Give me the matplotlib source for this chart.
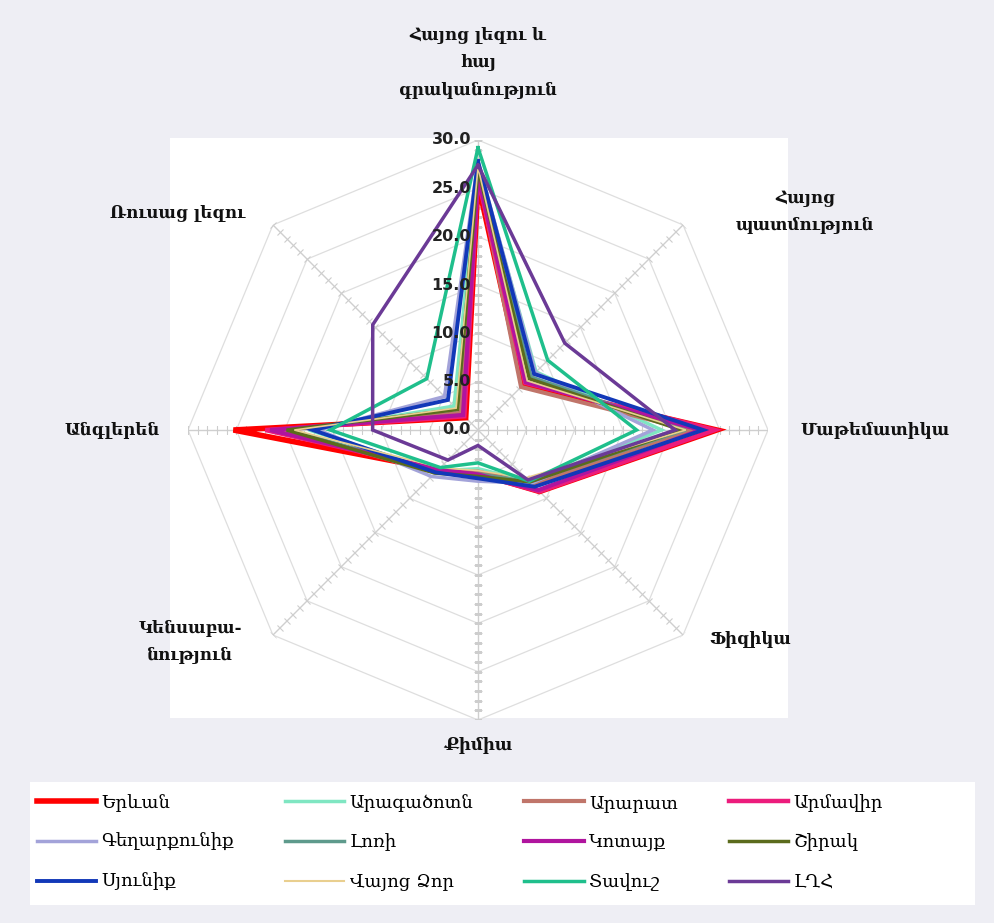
import numpy as np
import matplotlib
matplotlib.use("Agg")
import matplotlib.pyplot as plt
from matplotlib.patches import Rectangle
from matplotlib.lines import Line2D
from matplotlib.markers import MarkerStyle
from matplotlib.transforms import Affine2D

# subjects, clockwise from the top
subjects = ["Հայոց լեզու և\nհայ\nգրականություն", "Հայոց\nպատմություն", "Մաթեմատիկա",
            "Ֆիզիկա", "Քիմիա", "Կենսաբա-\nնություն", "Անգլերեն", "Ռուսաց լեզու"]

regions = ["Երևան", "Արագածոտն", "Արարատ", "Արմավիր", "Գեղարքունիք", "Լոռի",
           "Կոտայք", "Շիրակ", "Սյունիք", "Վայոց Ձոր", "Տավուշ", "ԼՂՀ"]

colors = ["#ff0000", "#7fe6c2", "#c0756a", "#ec1c7c", "#a3a3d9", "#5e9a8c",
          "#b0149e", "#5b6b1c", "#1238b8", "#e9cf8f", "#1fbf8c", "#6b3a96"]
widths = [4.0, 2.5, 3.0, 3.2, 2.5, 2.0, 3.0, 2.5, 2.8, 1.2, 2.5, 2.5]

# values per subject, in the order of regions
lang    = [25.5, 27.5, 26.5, 26.0, 27.8, 27.5, 26.3, 27.0, 27.8, 27.2, 29.2, 27.4]
history = [6.6, 8.5, 6.3, 6.9, 8.4, 7.8, 7.0, 7.5, 8.2, 7.2, 10.2, 12.7]
math_   = [24.7, 19.0, 22.0, 24.5, 18.1, 21.5, 23.0, 21.0, 23.3, 21.5, 16.4, 20.4]
physics = [9.0, 7.5, 8.0, 9.0, 7.8, 7.6, 8.8, 7.6, 8.3, 7.0, 7.5, 7.3]
chem    = [4.5, 4.0, 4.3, 4.6, 5.3, 4.5, 4.6, 4.8, 5.0, 4.2, 3.4, 1.6]
bio     = [5.8, 6.0, 6.2, 5.8, 6.8, 6.0, 5.8, 6.3, 6.2, 5.5, 5.5, 4.4]
english = [25.3, 17.5, 20.2, 22.0, 16.5, 19.5, 21.5, 19.8, 17.1, 19.0, 15.3, 10.9]
russian = [1.8, 3.5, 2.5, 2.0, 4.9, 3.0, 2.2, 3.0, 4.4, 3.2, 7.5, 15.4]

r_ticks = [0, 5, 10, 15, 20, 25, 30]

data = np.array([lang, history, math_, physics, chem, bio, english, russian]).T

W, H = 994, 923
fig = plt.figure(figsize=(W / 100, H / 100), dpi=100)
fig.patch.set_facecolor("#eeeef4")

def fx(px):
    return px / W

def fy(py):
    return 1 - py / H

# white plot area
fig.add_artist(Rectangle((fx(170), fy(718)), fx(788) - fx(170), fy(138) - fy(718),
                         transform=fig.transFigure, facecolor="white", edgecolor="none", zorder=-1))

cx, cy, rad = 478, 430, 290
ax = fig.add_axes([fx(cx - rad), fy(cy + rad), 2 * rad / W, 2 * rad / H], projection="polar")
ax.set_theta_zero_location("N")
ax.set_theta_direction(-1)
ax.patch.set_alpha(0)
ax.spines["polar"].set_visible(False)
ax.grid(False)
ax.set_xticks([])
ax.set_yticks([])
ax.set_ylim(0, 30)

theta = np.arange(len(subjects)) * 2 * np.pi / len(subjects)
closed = np.append(theta, theta[0])

# octagon grid
for r in r_ticks[1:]:
    ax.plot(closed, [r] * len(closed), color="#dedede", lw=0.9, zorder=1)
# spokes with small ticks
for i, th in enumerate(theta):
    ax.plot([th, th], [0, 30], color="#cfcfcf", lw=1.0, zorder=1)
    tick = MarkerStyle("_", transform=Affine2D().rotate_deg(-i * 45))
    ax.plot([th] * 30, np.arange(1, 31), ls="none", marker=tick,
            ms=6, mew=0.8, color="#cdcdcd", zorder=1)

for r in r_ticks:
    ax.annotate(f"{r:.1f}", xy=(0, r), xytext=(-5, 0), textcoords="offset points",
                ha="right", va="center", fontsize=11.5, fontweight="bold",
                color="#222222", zorder=5)

for i, name in enumerate(regions):
    vals = np.append(data[i], data[i][0])
    ax.plot(closed, vals, color=colors[i], lw=widths[i], zorder=3, solid_joinstyle="miter")

# subject labels
lab_font = dict(fontsize=12, fontweight="bold", color="#111111",
                family=["DejaVu Serif", "DejaVu Sans"], linespacing=1.8)
fig.text(fx(478), fy(63), subjects[0], ha="center", va="center", **lab_font)
fig.text(fx(805), fy(212), subjects[1], ha="center", va="center", **lab_font)
fig.text(fx(800), fy(430), subjects[2], ha="left", va="center", **lab_font)
fig.text(fx(750), fy(640), subjects[3], ha="center", va="center", **lab_font)
fig.text(fx(478), fy(745), subjects[4], ha="center", va="center", **lab_font)
fig.text(fx(190), fy(642), subjects[5], ha="center", va="center", **lab_font)
fig.text(fx(160), fy(430), subjects[6], ha="right", va="center", **lab_font)
fig.text(fx(178), fy(213), subjects[7], ha="center", va="center", **lab_font)

# white legend box
fig.add_artist(Rectangle((fx(30), fy(905)), fx(975) - fx(30), fy(782) - fy(905),
                         transform=fig.transFigure, facecolor="white", edgecolor="none", zorder=-1))

# legend, filled row by row like the original
order = [0, 4, 8, 1, 5, 9, 2, 6, 10, 3, 7, 11]
handles = [Line2D([], [], color=colors[i], lw=max(widths[i], 2.5) if i != 9 else 1.5) for i in order]
labels = [regions[i] for i in order]
leg = fig.legend(handles, labels, loc="upper left", ncol=4,
                 bbox_to_anchor=(fx(33), fy(790)),
                 frameon=False, borderaxespad=0, borderpad=0.2,
                 handlelength=3.3, handletextpad=0.3, labelspacing=1.2, columnspacing=2.8,
                 prop=dict(family=["DejaVu Serif", "DejaVu Sans"], size=13))

fig.savefig("out.png", dpi=100, facecolor=fig.get_facecolor())
